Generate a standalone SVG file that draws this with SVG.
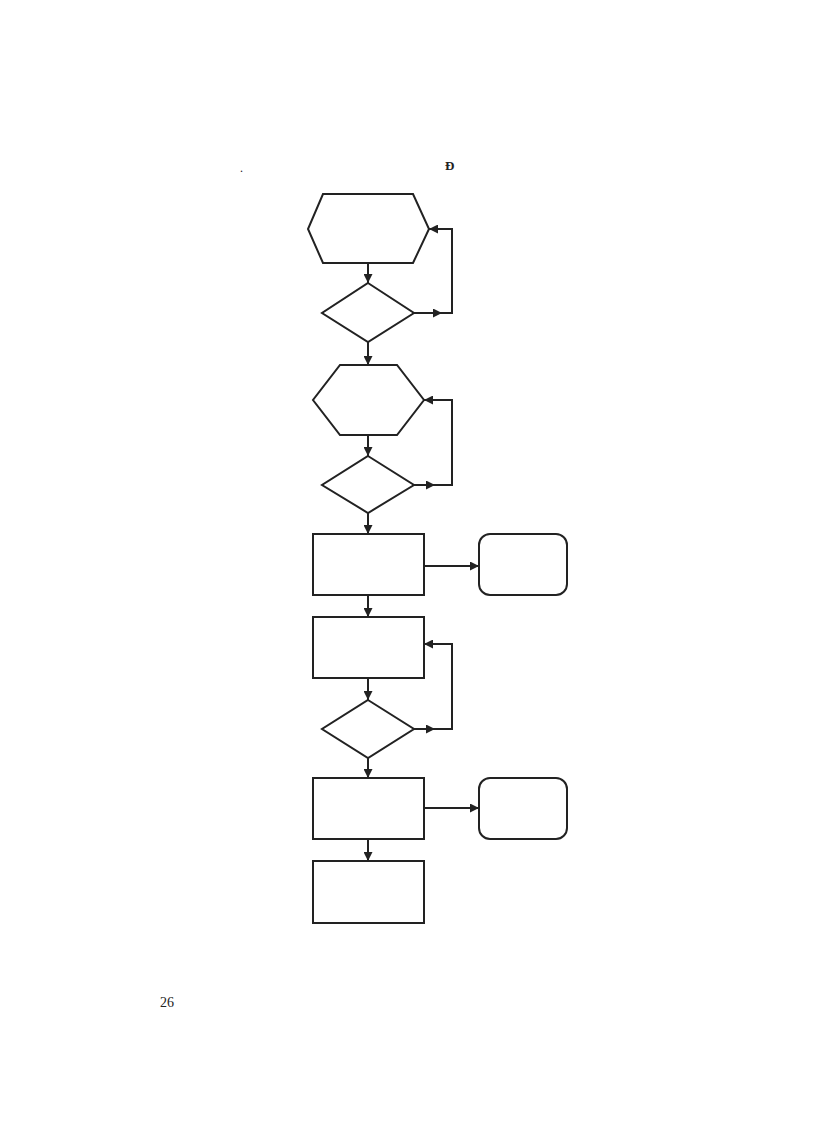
<svg xmlns="http://www.w3.org/2000/svg" width="816" height="1123" viewBox="0 0 816 1123">
<style>
.n{fill:#fff;stroke:#222;stroke-width:2;stroke-linejoin:miter}
.c{fill:none;stroke:#222;stroke-width:2}
.t{font-family:"Liberation Serif","DejaVu Serif",serif;fill:#222}
</style>
<defs>
<marker id="ah" viewBox="0 0 10 10" refX="10" refY="5" markerWidth="4.5" markerHeight="4.5" orient="auto" markerUnits="strokeWidth">
<path d="M0,0 L10,5 L0,10 z" fill="#222"/>
</marker>
</defs>
<rect width="816" height="1123" fill="#fff"/>
<text class="t" x="240" y="172" font-size="12">.</text>
<text class="t" x="445" y="170" font-size="13" font-weight="bold">Đ</text>
<text class="t" x="160" y="1007" font-size="14">26</text>

<g id="hex1"><polygon class="n" points="323,194 413,194 429,229 413,263 323,263 308,229"/></g>
<g id="dia1"><polygon class="n" points="368,283 414,313 368,342 322,313"/></g>
<g id="hex2"><polygon class="n" points="340,365 397,365 424,400 397,435 340,435 313,400"/></g>
<g id="dia2"><polygon class="n" points="368,456 414,485 368,513 322,485"/></g>
<g id="rect1"><rect class="n" x="313" y="534" width="111" height="61"/></g>
<g id="term1"><rect class="n" x="479" y="534" width="88" height="61" rx="11"/></g>
<g id="rect2"><rect class="n" x="313" y="617" width="111" height="61"/></g>
<g id="dia3"><polygon class="n" points="368,700 414,729 368,758 322,729"/></g>
<g id="rect3"><rect class="n" x="313" y="778" width="111" height="61"/></g>
<g id="term2"><rect class="n" x="479" y="778" width="88" height="61" rx="11"/></g>
<g id="rect4"><rect class="n" x="313" y="861" width="111" height="62"/></g>

<g id="connectors">
<path class="c" d="M368,263 V283" marker-end="url(#ah)"/>
<path class="c" d="M368,342 V365" marker-end="url(#ah)"/>
<path class="c" d="M368,435 V456" marker-end="url(#ah)"/>
<path class="c" d="M368,513 V534" marker-end="url(#ah)"/>
<path class="c" d="M368,595 V617" marker-end="url(#ah)"/>
<path class="c" d="M368,678 V700" marker-end="url(#ah)"/>
<path class="c" d="M368,758 V778" marker-end="url(#ah)"/>
<path class="c" d="M368,839 V861" marker-end="url(#ah)"/>
<path class="c" d="M424,566 H479" marker-end="url(#ah)"/>
<path class="c" d="M424,808 H479" marker-end="url(#ah)"/>

<path class="c" d="M414,313 H442" marker-end="url(#ah)"/>
<path class="c" d="M440,313 H452 V229 H429" marker-end="url(#ah)"/>
<path class="c" d="M414,485 H435" marker-end="url(#ah)"/>
<path class="c" d="M433,485 H452 V400 H424" marker-end="url(#ah)"/>
<path class="c" d="M414,729 H435" marker-end="url(#ah)"/>
<path class="c" d="M433,729 H452 V644 H424" marker-end="url(#ah)"/>
</g>
</svg>
